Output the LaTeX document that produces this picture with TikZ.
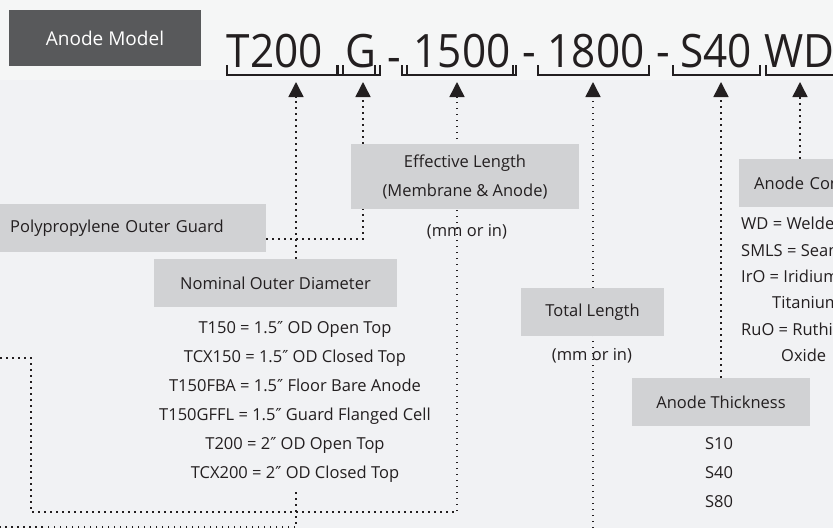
\documentclass[tikz,border=0pt]{standalone}
\usepackage{fontspec}
\setmainfont{Open Sans}
\newfontfamily\codefont{Open Sans}[FakeStretch=0.92]
\newfontfamily\primefont{DejaVu Sans}
\newcommand{\inch}{{\primefont ″}}
\usepackage{xcolor}
\definecolor{panelBg}{HTML}{F1F2F4}
\definecolor{panelTop}{HTML}{F5F6F6}
\definecolor{labelGrey}{HTML}{D1D2D4}
\definecolor{titleGrey}{HTML}{58595B}
\definecolor{inkDark}{HTML}{231F20}
\usetikzlibrary{arrows.meta,backgrounds}

\tikzset{
  greybox/.style={fill=labelGrey, draw=none, inner sep=0pt, minimum height=48pt,
    font=\fontsize{16.5}{19}\selectfont, text=inkDark},
  plaintext/.style={inner sep=0pt, font=\fontsize{16.5}{19}\selectfont, text=inkDark},
  modelpart/.style={inner sep=0pt, anchor=base, font=\codefont\fontsize{46}{50}\selectfont, text=inkDark},
  bracket/.style={draw=inkDark, line width=1.2pt},
  leadplain/.style={draw=inkDark, line width=1.5pt, dash pattern=on 1.5pt off 4.5pt},
  lead/.style={leadplain, -{Triangle[width=15pt,length=15pt]}},
}

\begin{document}
\begin{tikzpicture}[x=1pt, y=-1pt]
  \useasboundingbox (0,0) rectangle (833,528);
  \clip (0,0) rectangle (833,528);

  % title and model code
  \node[fill=titleGrey, text=white, minimum width=192pt, minimum height=56pt,
    font=\fontsize{19}{22}\selectfont] (title) at (105,38) {Anode Model};
  \node[modelpart] (segT) at (275,67) {T200};
  \node[modelpart] (segG) at (361,67) {G};
  \node[modelpart] (dashA) at (394,72) {-};
  \node[modelpart] (segE) at (462,67) {1500};
  \node[modelpart] (dashB) at (529,67) {-};
  \node[modelpart] (segL) at (596,67) {1800};
  \node[modelpart] (dashC) at (663,67) {-};
  \node[modelpart] (segS) at (716,67) {S40};
  \node[modelpart, anchor=base west] (segW) at (764,67) {WD};

  % brackets under the code
  \draw[bracket] (227,65) |- (337,75) -- (337,65);
  \draw[bracket] (338,65) |- (380,75) -- (380,65);
  \draw[bracket] (343,65) -- (343,75) (375,65) -- (375,75);
  \draw[bracket] (402,65) |- (516,75) -- (516,65);
  \draw[bracket] (407,65) -- (407,75) (513,65) -- (513,75);
  \draw[bracket] (538,65) |- (649,75) -- (649,65);
  \draw[bracket] (673,65) |- (760,75) -- (760,65);
  \draw[bracket] (766,65) |- (850,75);

  % labels
  \node[greybox, anchor=west, text width=246pt, align=left, inner xsep=10pt] (pp) at (0,228) {Polypropylene Outer Guard};
  \node[greybox, minimum width=228pt, minimum height=65pt, align=center,
    font=\fontsize{16.5}{29}\selectfont] (eff) at (465,176.5) {Effective Length\\(Membrane \& Anode)};
  \node[plaintext, anchor=base] (effUnit) at (467,236) {(mm or in)};
  \node[greybox, minimum width=243pt] (nod) at (275.5,283) {Nominal Outer Diameter};
  \foreach \txt [count=\i] in {T150 = 1.5\inch{} OD Open Top, TCX150 = 1.5\inch{} OD Closed Top,
      T150FBA = 1.5\inch{} Floor Bare Anode, T150GFFL = 1.5\inch{} Guard Flanged Cell,
      T200 = 2\inch{} OD Open Top, TCX200 = 2\inch{} OD Closed Top}
    \node[plaintext, anchor=base] (od\i) at (295,304+29*\i) {\txt};
  \node[greybox, minimum width=143pt] (tot) at (592.5,312) {Total Length};
  \node[plaintext, anchor=base] (totUnit) at (592,360) {(mm or in)};
  \node[greybox, minimum width=178pt] (thick) at (721,402) {Anode Thickness};
  \foreach \txt [count=\i] in {S10, S40, S80}
    \node[plaintext, anchor=base] (th\i) at (719,420+29*\i) {\txt};
  \node[greybox, anchor=west, text width=170pt, align=left, inner xsep=15pt] (cons) at (739,183) {Anode Con};
  \foreach \x/\y/\txt [count=\i] in {741/229/WD = Welde, 741/256/SMLS = Seam, 741/282/IrO = Iridium,
      772/308/Titanium, 741/335/RuO = Ruthi, 781/361/Oxide}
    \node[plaintext, anchor=base west] (co\i) at (\x,\y) {\txt};

  % arrow tips and loose ends
  \coordinate (tipT) at (296,82);
  \coordinate (tipG) at (363,82);
  \coordinate (tipE) at (457,82);
  \coordinate (tipL) at (593,82);
  \coordinate (tipS) at (721,82);
  \coordinate (tipW) at (800,82);
  \coordinate (ppJoin) at (pp.east |- 0,239);
  \coordinate (odEnd) at (296,492);
  \coordinate (offL) at (0,527);
  \coordinate (offM) at (0,358);
  \coordinate (cornerA) at (31,512);
  \coordinate (offB) at (593,528);

  \begin{pgfonlayer}{background}
    \fill[panelBg] (0,0) rectangle (833,528);
    \fill[panelTop] (0,0) rectangle (833,80);
    \draw[lead] (nod.north -| tipT) -- (tipT);
    \draw[leadplain] (odEnd) |- (offL);
    \draw[lead] (ppJoin) -| (tipG);
    \draw[lead] (offM) -| (cornerA) -| (tipE);
    \draw[lead] (offB) -- (tipL);
    \draw[lead] (thick.north -| tipS) -- (tipS);
    \draw[lead] (cons.north -| tipW) -- (tipW);
  \end{pgfonlayer}
\end{tikzpicture}
\end{document}
